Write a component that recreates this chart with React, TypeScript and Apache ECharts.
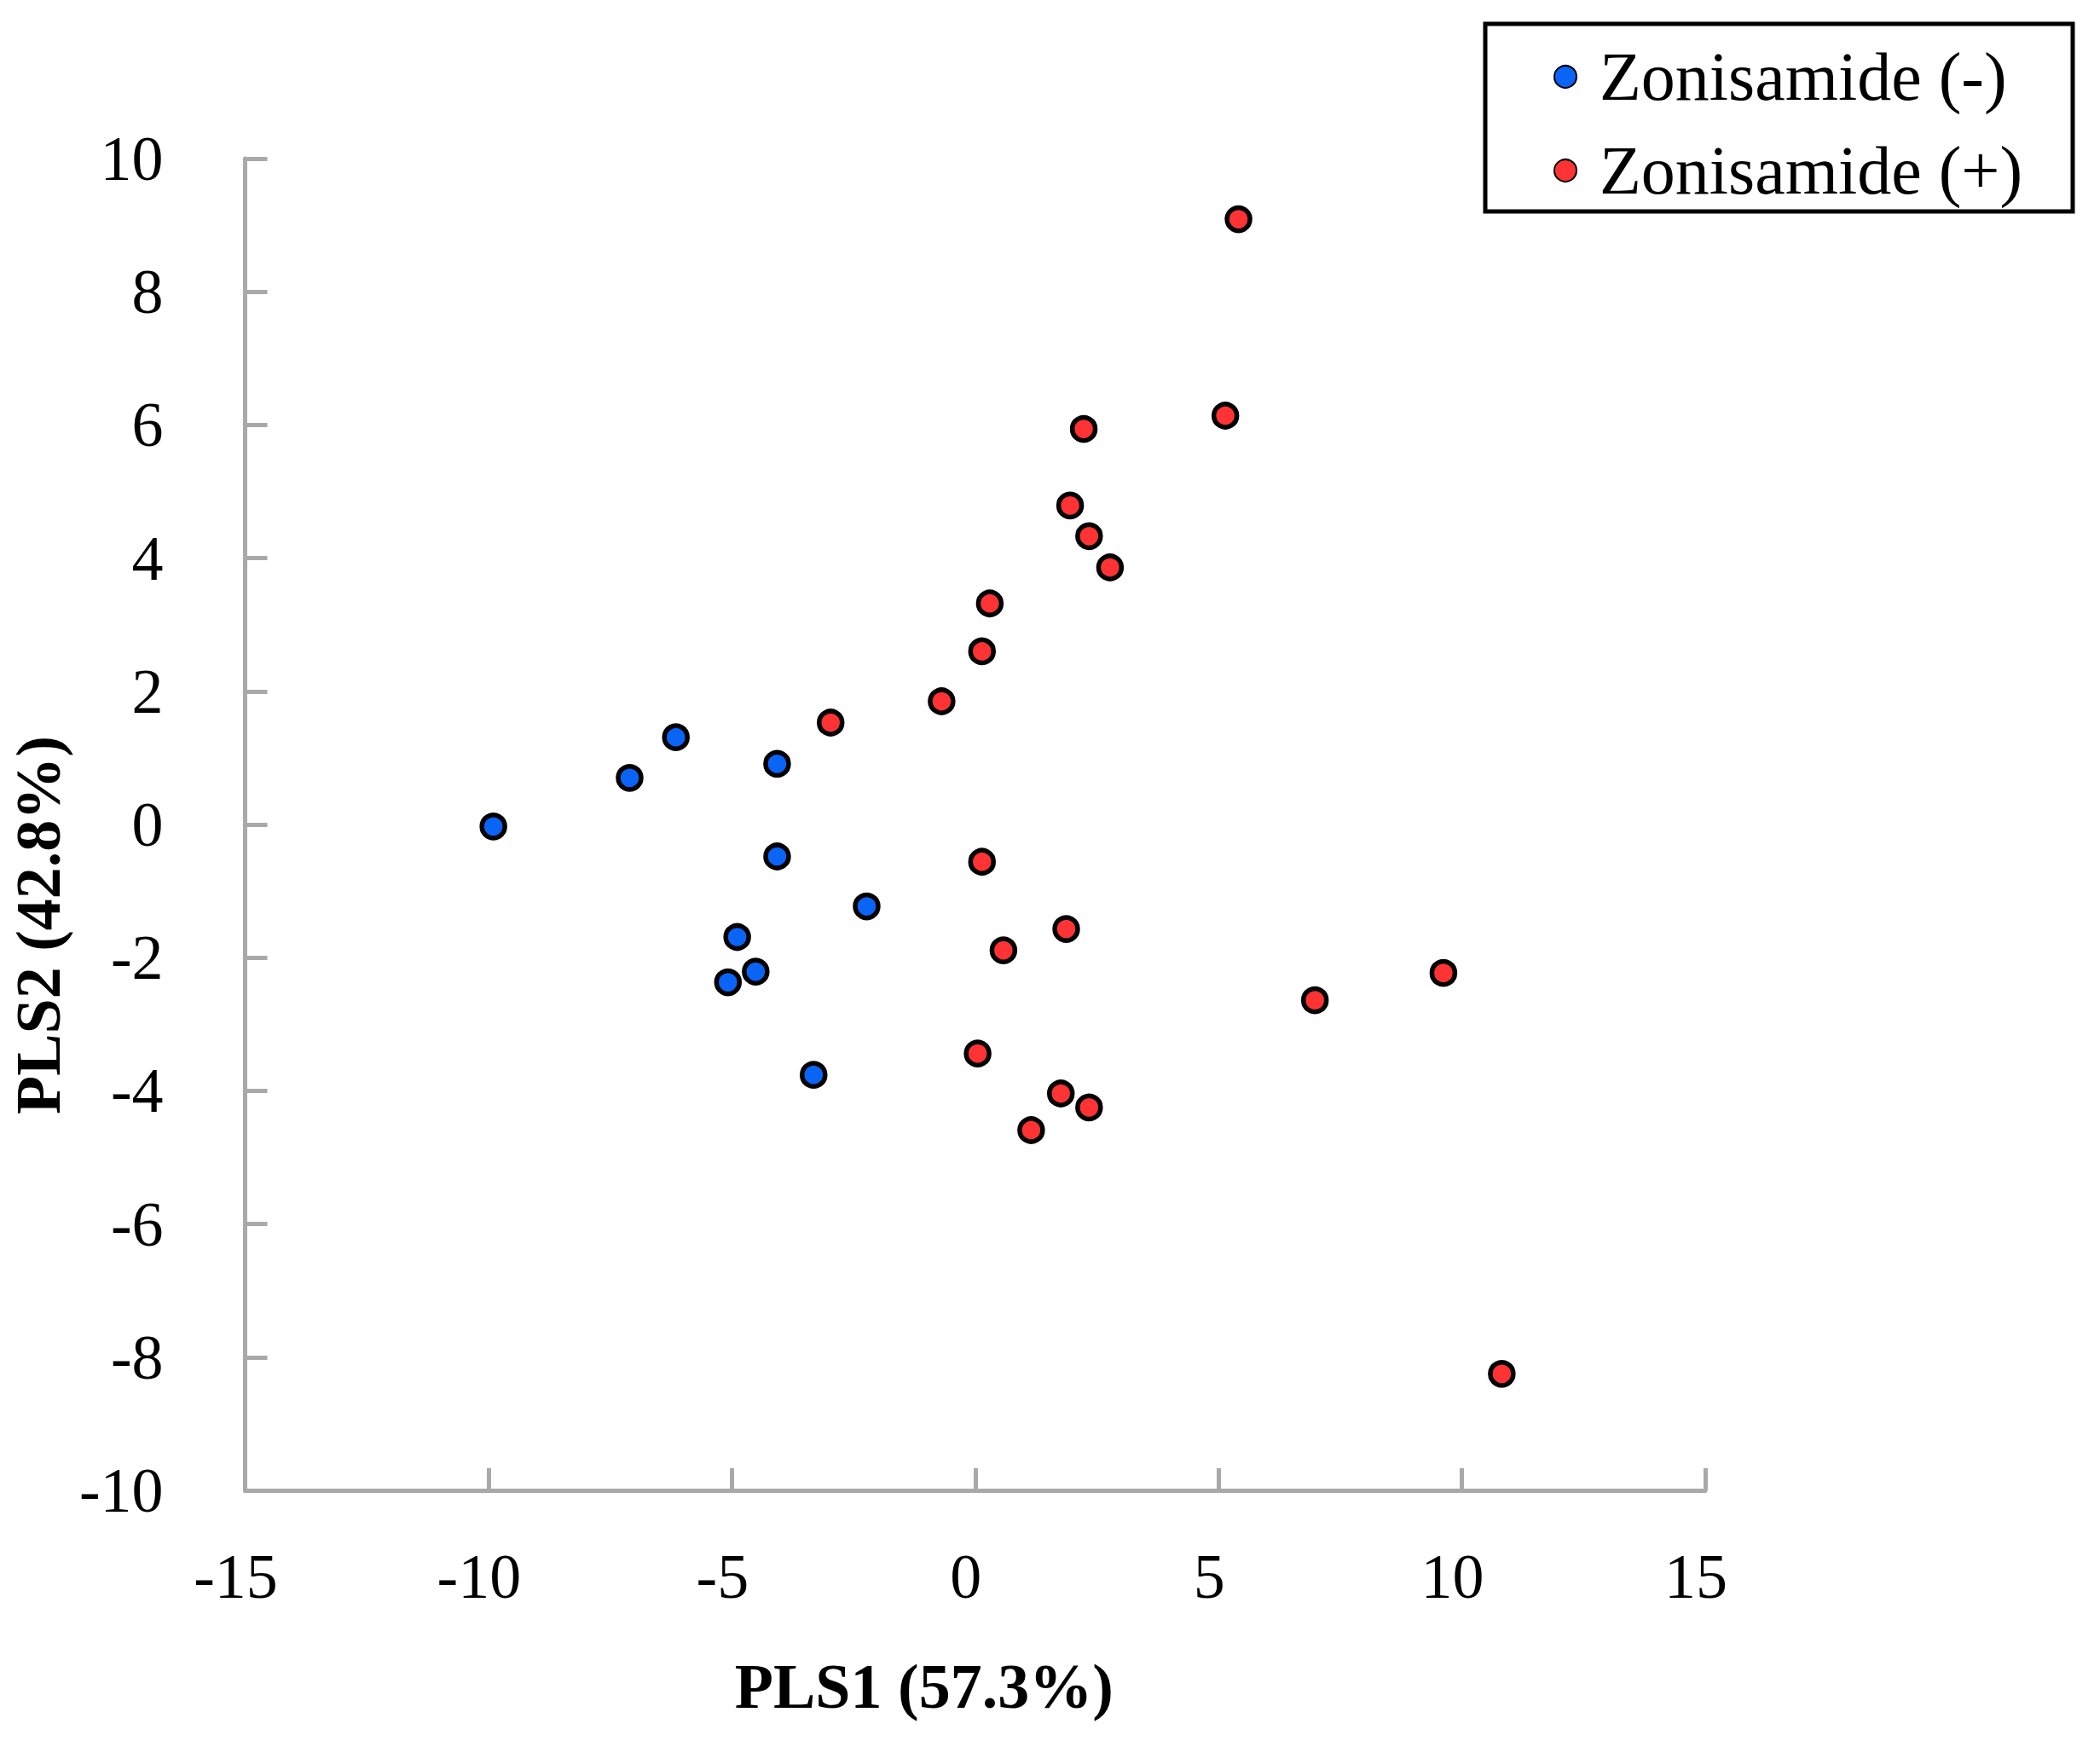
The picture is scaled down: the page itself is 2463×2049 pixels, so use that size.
import React, { useEffect, useRef } from "react";
import * as echarts from "echarts";

const seriesNames = ["Zonisamide (-)", "Zonisamide (+)"];
const blueX = [-9.9, -7.1, -6.15, -4.07, -4.07, -2.23, -4.89, -4.51, -5.08, -3.32];
const blueY = [-0.03, 0.7, 1.31, 0.91, -0.48, -1.23, -1.69, -2.21, -2.37, -3.76];
const redX = [5.41, 5.14, 2.23, 1.95, 2.34, 2.77, 0.3, 0.14, -0.69, -2.97, 0.14, 1.87, 0.58, 6.98, 9.62, 0.05, 1.76, 2.34, 1.15, 10.82];
const redY = [9.09, 6.14, 5.94, 4.79, 4.33, 3.86, 3.32, 2.6, 1.85, 1.53, -0.56, -1.57, -1.89, -2.64, -2.23, -3.44, -4.04, -4.25, -4.59, -8.25];
const xTitle = "PLS1 (57.3%)";
const yTitle = "PLS2 (42.8%)";

const FONT = "'Liberation Serif', 'Times New Roman', serif";
const AXIS_GRAY = "#a9a9a9";

export default function App() {
  const ref = useRef<HTMLDivElement>(null);
  useEffect(() => {
    if (!ref.current) return;
    const chart = echarts.init(ref.current, null, { renderer: "svg" });
    const toPairs = (xs: number[], ys: number[]) => xs.map((x, i) => [x, ys[i]]);
    const axisCommon = {
      axisLine: { show: true, onZero: false, lineStyle: { color: AXIS_GRAY, width: 5 } },
      axisTick: { show: true, inside: true, length: 26, lineStyle: { color: AXIS_GRAY, width: 5 } },
      splitLine: { show: false },
    };
    chart.setOption({
      animation: false,
      backgroundColor: "#ffffff",
      grid: { left: 281, right: 463, top: 186, bottom: 301, containLabel: false },
      xAxis: {
        type: "value",
        min: -15,
        max: 15,
        interval: 5,
        ...axisCommon,
        axisLabel: {
          margin: 64,
          color: "#000",
          fontFamily: FONT,
          fontSize: 74,
          lineHeight: 74,
          padding: [0, 22, 0, 0],
        },
        name: xTitle,
        nameLocation: "middle",
        nameGap: 193,
        nameTextStyle: {
          color: "#000",
          fontFamily: FONT,
          fontSize: 74,
          fontWeight: "bold",
          lineHeight: 74,
          padding: [0, 120, 0, 0],
        },
      },
      yAxis: {
        type: "value",
        min: -10,
        max: 10,
        interval: 2,
        ...axisCommon,
        axisLabel: {
          margin: 96,
          color: "#000",
          fontFamily: FONT,
          fontSize: 74,
          lineHeight: 74,
        },
        name: yTitle,
        nameLocation: "middle",
        nameRotate: 90,
        nameGap: 186,
        nameTextStyle: {
          color: "#000",
          fontFamily: FONT,
          fontSize: 74,
          fontWeight: "bold",
          lineHeight: 74,
          padding: [0, 236, 0, 0],
        },
      },
      legend: {
        orient: "vertical",
        left: 1822,
        top: 50,
        padding: 0,
        itemGap: 30,
        itemWidth: 26,
        itemHeight: 26,
        icon: "circle",
        textStyle: {
          color: "#000",
          fontFamily: FONT,
          fontSize: 80,
          lineHeight: 80,
          padding: [0, 0, 0, 22],
        },
        data: seriesNames,
      },
      graphic: [
        {
          type: "rect",
          shape: { x: 1742, y: 28, width: 689, height: 220 },
          style: { fill: "transparent", stroke: "#000", lineWidth: 5 },
          z: 1,
        },
      ],
      series: [
        {
          name: seriesNames[0],
          type: "scatter",
          symbol: "circle",
          symbolSize: 27,
          data: toPairs(blueX, blueY),
          itemStyle: { color: "#0a64f5", borderColor: "#000", borderWidth: 5.5, opacity: 1 },
        },
        {
          name: seriesNames[1],
          type: "scatter",
          symbol: "circle",
          symbolSize: 27,
          data: toPairs(redX, redY),
          itemStyle: { color: "#ff3333", borderColor: "#000", borderWidth: 5.5, opacity: 1 },
        },
      ],
    });
    return () => chart.dispose();
  }, []);
  return (
    <div
      ref={ref}
      style={{ position: "fixed", left: 0, top: 0, width: 2463, height: 2049, background: "#fff" }}
    />
  );
}
